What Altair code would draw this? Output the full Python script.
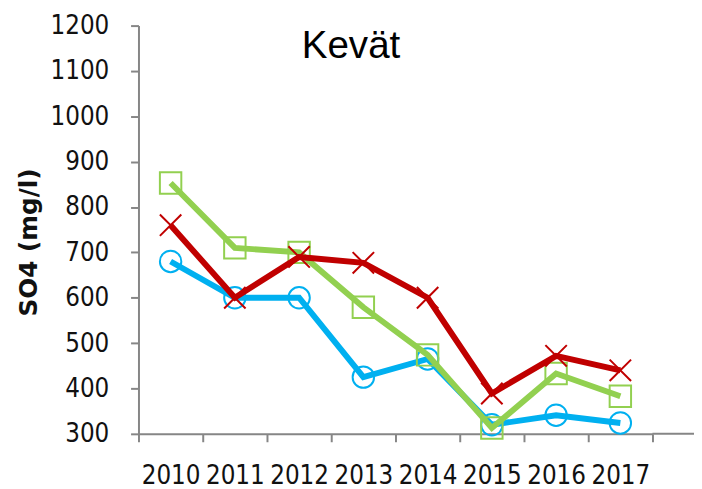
import altair as alt
import pandas as pd

years = ["2010", "2011", "2012", "2013", "2014", "2015", "2016", "2017"]
series_names = ["Sarja 1", "Sarja 2", "Sarja 3"]
blue_vals = [680, 600, 600, 425, 465, 320, 341, 324]
green_vals = [853, 710, 700, 579, 474, 313, 433, 383]
red_vals = [760, 600, 690, 677, 600, 389, 472, 440]
y_ticks = [300, 400, 500, 600, 700, 800, 900, 1000, 1100, 1200]
title_text = ["Kevät"]

colors = ["#00B0F0", "#92D050", "#C00000"]
shapes = ["circle", "square", "M-1,-1L1,1M-1,1L1,-1"]

rows = []
for name, vals in zip(series_names, [blue_vals, green_vals, red_vals]):
    for yr, v in zip(years, vals):
        rows.append({"year": yr, "value": v, "series": name})
df = pd.DataFrame(rows)

W, H = 520, 413

x_enc = alt.X("year:N", sort=years,
              scale=alt.Scale(type="band", paddingInner=0, paddingOuter=0),
              axis=alt.Axis(title=None, labelAngle=0, tickBand="extent",
                            labelFont="DejaVu Sans Condensed", labelFontSize=26,
                            labelColor="#111111", labelPadding=21,
                            domainColor="#868686", domainWidth=2,
                            tickColor="#868686", tickWidth=2, tickSize=8))
y_enc = alt.Y("value:Q",
              scale=alt.Scale(domain=[300, 1200], nice=False, zero=False),
              axis=alt.Axis(title="SO4 (mg/l)", values=y_ticks, grid=False,
                            format="d",
                            labelFont="DejaVu Sans Condensed", labelFontSize=26,
                            labelColor="#111111", labelPadding=22,
                            domainColor="#868686", domainWidth=2,
                            tickColor="#868686", tickWidth=2, tickSize=8,
                            titleFont="DejaVu Sans", titleFontWeight="bold",
                            titleFontSize=25, titleColor="#111111",
                            titleAngle=-90, titleX=-111, titleY=219,
                            titleAlign="center", titleBaseline="middle"))

layers = []
for name, col, shp in zip(series_names, colors, shapes):
    base = alt.Chart(df).transform_filter(alt.datum.series == name)
    line = base.mark_line(color=col, strokeWidth=6).encode(x=x_enc, y=y_enc)
    pts = base.mark_point(shape=shp, color=col, filled=False,
                          strokeWidth=2, size=470,
                          opacity=1).encode(x=x_enc, y=y_enc)
    layers += [line, pts]

ext = alt.Chart(pd.DataFrame({"a": [0]})).mark_rule(
    color="#868686", strokeWidth=2).encode(
    x=alt.value(W), x2=alt.value(W + 42), y=alt.value(H))

title_layer = alt.Chart(pd.DataFrame({"t": title_text})).mark_text(
    font="Liberation Sans", fontSize=39, color="#000000",
    align="center", baseline="alphabetic").encode(
    text="t:N", x=alt.value(215), y=alt.value(33))

chart = alt.layer(*layers, ext, title_layer).properties(
    width=W, height=H,
    autosize=alt.AutoSizeParams(type="none"),
    padding={"left": 132, "top": 15, "right": 42, "bottom": 53},
).configure_view(stroke=None).configure_axis(grid=False)

chart.save("out.html", embed_options={"renderer": "svg", "actions": False})
